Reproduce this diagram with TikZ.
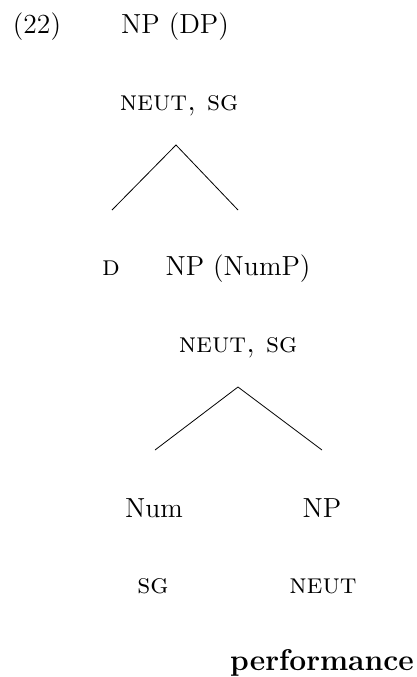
\documentclass[tikz,border=0pt]{standalone}
\begin{document}
\begin{tikzpicture}[x=0.5pt,y=-0.5pt,
  lab/.style={anchor=base,inner sep=0pt,font=\fontsize{13.8}{16}\selectfont},
  feat/.style={anchor=base,inner sep=0pt,font=\fontsize{14.2}{16}\selectfont\scshape},
  br/.style={line width=0.4pt}]
\useasboundingbox (0,0) rectangle (417,677);
\node[lab] (ex) at (37,33) {(22)};
\node[lab] (dp) at (175,33) {NP (DP)};
\node[feat] (f1) at (179,110) {neut, sg};
\coordinate (a1) at (176,145);
\coordinate (l1) at (112,210);
\coordinate (r1) at (238,210);
\draw[br] (l1) -- (a1) -- (r1);
\node[feat] (d) at (111,275) {d};
\node[lab] (nump) at (238,275) {NP (NumP)};
\node[feat] (f2) at (238,352) {neut, sg};
\coordinate (a2) at (238,387);
\coordinate (l2) at (155,450);
\coordinate (r2) at (322,450);
\draw[br] (l2) -- (a2) -- (r2);
\node[lab] (num) at (154,517) {Num};
\node[lab] (np) at (322,517) {NP};
\node[feat] (sg) at (153,593) {sg};
\node[feat] (neut) at (323,593) {neut};
\node[lab,font=\fontsize{15}{17}\selectfont\bfseries] (perf) at (322,670) {performance};
\end{tikzpicture}
\end{document}
